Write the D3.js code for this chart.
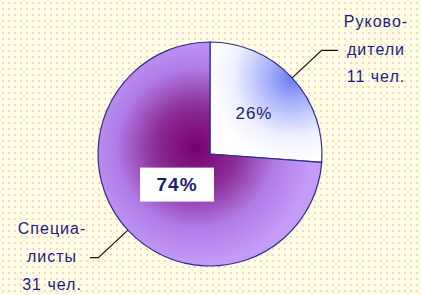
<!DOCTYPE html>
<html>
<head>
<meta charset="utf-8">
<script src="https://cdn.jsdelivr.net/npm/d3@7"></script>
<style>
  body { margin: 0; padding: 0; }
  svg { display: block; }
</style>
</head>
<body>
<svg width="421" height="295"></svg>
<script>
// данные диаграммы
const categories = ["Руководители", "Специалисты"];
const values = [11, 31];
const labelLines = [["Руково-", "дители", "11 чел."], ["Специа-", "листы", "31 чел."]];

const svg = d3.select("svg");
const width = +svg.attr("width");
const height = +svg.attr("height");

const cx = 210, cy = 154, radius = 112;
const total = d3.sum(values);

const defs = svg.append("defs");

// фон: светло-жёлтый с розовыми точками
const pat = defs.append("pattern")
  .attr("id", "bg")
  .attr("width", 6).attr("height", 6)
  .attr("patternUnits", "userSpaceOnUse");
pat.append("rect").attr("width", 6).attr("height", 6).attr("fill", "#fffee2");
pat.append("rect").attr("x", 2).attr("y", 2).attr("width", 2).attr("height", 2).attr("fill", "#f7d0e2");

svg.append("rect").attr("width", width).attr("height", height).attr("fill", "url(#bg)");

const pie = d3.pie().sort(null).value(d => d);
const arcs = pie(values);

// градиент большого сектора (координаты относительно центра круга)
const gBig = defs.append("radialGradient")
  .attr("id", "gBig")
  .attr("gradientUnits", "userSpaceOnUse")
  .attr("cx", -14).attr("cy", -6).attr("r", radius * 1.05);
gBig.append("stop").attr("offset", "0%").attr("stop-color", "#760070");
gBig.append("stop").attr("offset", "35%").attr("stop-color", "#8c2c96");
gBig.append("stop").attr("offset", "68%").attr("stop-color", "#b07ce6");
gBig.append("stop").attr("offset", "100%").attr("stop-color", "#c49cf8");

// градиент малого сектора: синий у середины дуги
const edgeMid = d3.arc().innerRadius(radius).outerRadius(radius).centroid(arcs[0]);
const gSmall = defs.append("radialGradient")
  .attr("id", "gSmall")
  .attr("gradientUnits", "userSpaceOnUse")
  .attr("cx", edgeMid[0]).attr("cy", edgeMid[1]).attr("r", radius * 0.75);
gSmall.append("stop").attr("offset", "0%").attr("stop-color", "#6c7cf4");
gSmall.append("stop").attr("offset", "30%").attr("stop-color", "#a8b2fa");
gSmall.append("stop").attr("offset", "70%").attr("stop-color", "#eef0ff");
gSmall.append("stop").attr("offset", "100%").attr("stop-color", "#ffffff");

const fills = ["url(#gSmall)", "url(#gBig)"];

const arc = d3.arc().innerRadius(0).outerRadius(radius);

const g = svg.append("g").attr("transform", "translate(" + cx + "," + cy + ")");

g.selectAll("path.slice")
  .data(arcs)
  .enter()
  .append("path")
  .attr("class", "slice")
  .attr("d", arc)
  .attr("fill", (d, i) => fills[i])
  .attr("stroke", "#2e2e8a")
  .attr("stroke-width", 1.2);

// процентные подписи
const pctArc = [
  d3.arc().innerRadius(60).outerRadius(60),
  d3.arc().innerRadius(45).outerRadius(45)
];

arcs.forEach(function (d, i) {
  const c = pctArc[i].centroid(d);
  const txt = Math.round(d.value / total * 100) + "%";
  if (i === 1) {
    g.append("rect")
      .attr("x", c[0] - 37).attr("y", c[1] - 17)
      .attr("width", 74).attr("height", 34)
      .attr("fill", "#ffffff");
  }
  g.append("text")
    .attr("x", c[0])
    .attr("y", c[1] + 6)
    .attr("text-anchor", "middle")
    .style("font-family", "Liberation Sans, Arial, sans-serif")
    .style("font-size", i === 1 ? "19px" : "17px")
    .style("font-weight", i === 1 ? "bold" : "normal")
    .style("letter-spacing", "1px")
    .attr("fill", "#1c1c78")
    .text(txt);
});

// выноски
const outerArc = d3.arc().innerRadius(radius * 1.36).outerRadius(radius * 1.36);
const edgeArc = d3.arc().innerRadius(radius).outerRadius(radius);
const stubX = [338 - cx, 90 - cx];
const labelX = [376 - cx, 52 - cx];
const labelY = [[27, 55, 82], [234, 262, 290]];

arcs.forEach(function (d, i) {
  const p0 = edgeArc.centroid(d);
  const p1 = outerArc.centroid(d);
  const p2 = [stubX[i], p1[1]];
  g.append("polyline")
    .attr("points", [p0, p1, p2].map(p => p.join(",")).join(" "))
    .attr("fill", "none")
    .attr("stroke", "#111111")
    .attr("stroke-width", 1.2);

  labelLines[i].forEach(function (line, j) {
    g.append("text")
      .attr("x", labelX[i])
      .attr("y", labelY[i][j] - cy)
      .attr("text-anchor", "middle")
      .style("font-family", "Liberation Sans, Arial, sans-serif")
      .style("font-size", "16px")
      .style("letter-spacing", "1px")
      .attr("fill", "#1c1c80")
      .text(line);
  });
});
</script>
</body>
</html>
